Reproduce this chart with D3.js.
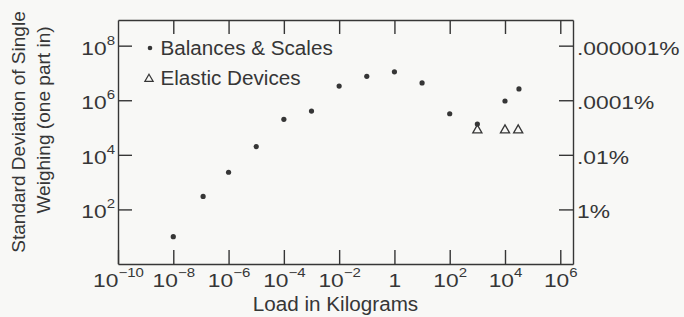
<!DOCTYPE html>
<html>
<head>
<meta charset="utf-8">
<script src="https://cdn.jsdelivr.net/npm/d3@7"></script>
<style>
	body { margin: 0; background: #f8f8f6; }
	svg { display: block; font-family: "Liberation Sans", Arial, Helvetica, sans-serif; }
</style>
</head>
<body>
<div id="chart"></div>
<script>
// Balances & Scales (load in kg, one part in)
let scaleLoads = [1e-8, 1.2e-7, 1e-6, 1e-5, 1e-4, 1e-3, 1e-2, 1e-1, 1, 10, 100, 1000, 1e4, 3.2e4];
let scaleParts = [10, 300, 2300, 2e4, 2e5, 4e5, 3.3e6, 7.5e6, 1.1e7, 4.3e6, 3.2e5, 1.35e5, 9.4e5, 2.6e6];

// Elastic Devices
let elasticLoads = [1000, 1e4, 3e4];
let elasticParts = [8e4, 8e4, 8e4];

// tick values and labels
let xTickExp = [-10, -8, -6, -4, -2, 0, 2, 4, 6];
let yTickExp = [2, 4, 6, 8];
let percentLabels = ["1%", ".01%", ".0001%", ".000001%"];

let width = 684,
		height = 317,
		ink = "#363636";

let x = d3.scaleLog()
		.domain([1e-10, Math.pow(10, 6.46)])
		.range([118, 573]);

let y = d3.scaleLog()
		.domain([1, Math.pow(10, 8.94)])
		.range([264, 20]);

let svg = d3.select("#chart")
		.append("svg")
		.attr("width", width)
		.attr("height", height);

// stretch text sideways about its own anchor point
function stretch(sel, sx) {
	sel.each(function() {
		let t = d3.select(this);
		let tx = +(t.attr("x") || 0), ty = +(t.attr("y") || 0);
		t.attr("x", null).attr("y", null)
			.attr("transform", "translate(" + tx + "," + ty + ") scale(" + sx + ",1)");
	});
}

// power of ten label with superscript exponent
function powerLabel(text, e, supDy) {
	text.text(null);
	if (e === 0) { text.text("1"); return; }
	text.append("tspan").text("10");
	text.append("tspan")
		.attr("font-size", 12.5)
		.attr("dy", supDy)
		.text(e < 0 ? "\u2212" + (-e) : e);
}

let xTicks = xTickExp.map(e => Math.pow(10, e));
let yTicks = yTickExp.map(e => Math.pow(10, e));

function styleAxis(g) {
	g.attr("font-family", null).attr("font-size", 19);
	g.selectAll("path, line").attr("stroke", ink).attr("stroke-width", 1.4);
	g.selectAll("text").attr("fill", ink);
}

// bottom axis, ticks pointing inward
svg.append("g")
	.attr("transform", "translate(0,264)")
	.call(d3.axisBottom(x).tickValues(xTicks).tickSizeInner(-14).tickSizeOuter(0).tickPadding(10).tickFormat(""))
	.call(styleAxis)
	.call(g => g.selectAll("text").each(function(d) {
		powerLabel(d3.select(this), Math.round(Math.log10(d)), -10);
	}))
	.call(g => stretch(g.selectAll("text"), 1.2));

// top axis, ticks only
svg.append("g")
	.attr("transform", "translate(0,20)")
	.call(d3.axisTop(x).tickValues(xTicks.slice(1)).tickSizeInner(-14).tickSizeOuter(0).tickFormat(""))
	.call(styleAxis);

// left axis
svg.append("g")
	.attr("transform", "translate(118,0)")
	.call(d3.axisLeft(y).tickValues(yTicks).tickSizeInner(-14).tickSizeOuter(0).tickPadding(3).tickFormat(""))
	.call(styleAxis)
	.call(g => g.selectAll("text").attr("dy", "0.45em").each(function(d) {
		powerLabel(d3.select(this), Math.round(Math.log10(d)), -10);
	}))
	.call(g => stretch(g.selectAll("text"), 1.2));

// right axis in percent
svg.append("g")
	.attr("transform", "translate(573,0)")
	.call(d3.axisRight(y).tickValues(yTicks).tickSizeInner(-14).tickSizeOuter(0).tickPadding(4)
		.tickFormat((d, i) => percentLabels[i]))
	.call(styleAxis)
	.call(g => g.selectAll("text").attr("dy", "0.45em"))
	.call(g => stretch(g.selectAll("text"), 1.2));

// data marks
svg.append("g")
	.selectAll("circle")
	.data(scaleLoads)
	.enter()
	.append("circle")
	.attr("cx", d => x(d))
	.attr("cy", (d, i) => y(scaleParts[i]))
	.attr("r", 2.6)
	.attr("fill", ink);

let tri = d3.symbol().type(d3.symbolTriangle).size(36);

svg.append("g")
	.selectAll("path")
	.data(elasticLoads)
	.enter()
	.append("path")
	.attr("d", tri)
	.attr("transform", (d, i) => "translate(" + x(d) + "," + y(elasticParts[i]) + ")")
	.attr("fill", "none")
	.attr("stroke", ink)
	.attr("stroke-width", 1.3);

// legend
svg.append("circle").attr("cx", 150).attr("cy", 48).attr("r", 2.3).attr("fill", ink);
svg.append("path").attr("d", d3.symbol().type(d3.symbolTriangle).size(30))
	.attr("transform", "translate(149,79)")
	.attr("fill", "none").attr("stroke", ink).attr("stroke-width", 1.2);

let legend = svg.append("g").attr("font-size", 19.5).attr("fill", ink);
legend.append("text").attr("x", 160.5).attr("y", 55).text("Balances & Scales");
legend.append("text").attr("x", 160.5).attr("y", 85).text("Elastic Devices");
stretch(legend.selectAll("text"), 1.06);

// axis titles
svg.append("text")
	.attr("x", 335.5).attr("y", 311)
	.attr("text-anchor", "middle")
	.attr("font-size", 19.5)
	.attr("fill", ink)
	.text("Load in Kilograms")
	.call(t => stretch(t, 1.06));

let yTitle = svg.append("g").attr("font-size", 18).attr("fill", ink).attr("text-anchor", "middle");
yTitle.append("text")
	.attr("transform", "translate(25,132) rotate(-90) scale(1.06,1)")
	.text("Standard Deviation of Single");
yTitle.append("text")
	.attr("transform", "translate(50,120) rotate(-90) scale(1.06,1)")
	.text("Weighing (one part in)");
</script>
</body>
</html>
